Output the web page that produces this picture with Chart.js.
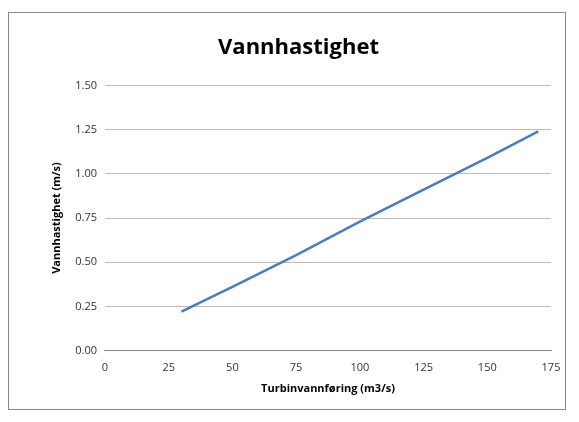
<!DOCTYPE html>
<html>
<head>
<meta charset="utf-8">
<script src="https://cdn.jsdelivr.net/npm/chart.js@4"></script>
<style>
  body { margin: 0; background: #fff; }
  #ramme { position: absolute; left: 8px; top: 12px; width: 558px; height: 398px; border: 1px solid #888; box-sizing: border-box; background: #fff; }
</style>
</head>
<body>
<div id="ramme"><canvas id="bieuDo"></canvas></div>
<script>
const vannforing = [30, 50, 75, 100, 125, 150, 170];
const hastighet = [0.22, 0.36, 0.54, 0.73, 0.91, 1.09, 1.24];
const yTicks = [0, 0.25, 0.5, 0.75, 1.0, 1.25, 1.5];

const ctx = document.getElementById('bieuDo').getContext('2d');
new Chart(ctx, {
    type: 'scatter',
    data: {
        datasets: [{
            data: vannforing.map((x, i) => ({ x: x, y: hastighet[i] })),
            showLine: true,
            borderColor: '#4a7ebb',
            borderWidth: 2.5,
            pointRadius: 0,
            tension: 0
        }]
    },
    options: {
        responsive: true,
        maintainAspectRatio: false,
        animation: false,
        layout: { padding: { left: 37, right: 14, top: 14, bottom: 10 } },
        plugins: {
            legend: { display: false },
            tooltip: { enabled: false },
            title: {
                display: true,
                text: 'Vannhastighet',
                color: '#000',
                font: { family: 'Open Sans', size: 22, weight: 'bold' },
                padding: { top: 8, bottom: 24 }
            }
        },
        scales: {
            x: {
                type: 'linear', min: 0, max: 175,
                ticks: { stepSize: 25, color: '#333', font: { family: 'Open Sans', size: 11 } },
                grid: { display: false },
                border: { color: '#888' },
                title: { display: true, text: 'Turbinvannføring (m3/s)', color: '#000', font: { family: 'Open Sans', size: 11, weight: 'bold' } }
            },
            y: {
                min: 0, max: 1.5,
                afterBuildTicks: axis => { axis.ticks = yTicks.map(v => ({ value: v })); },
                ticks: { color: '#333', font: { family: 'Open Sans', size: 11 }, callback: v => v.toFixed(2), padding: 8 },
                grid: { color: '#bbb', drawTicks: false },
                border: { display: false },
                title: { display: true, text: 'Vannhastighet (m/s)', color: '#000', font: { family: 'Open Sans', size: 11, weight: 'bold' } }
            }
        }
    }
});
</script>
</body>
</html>
